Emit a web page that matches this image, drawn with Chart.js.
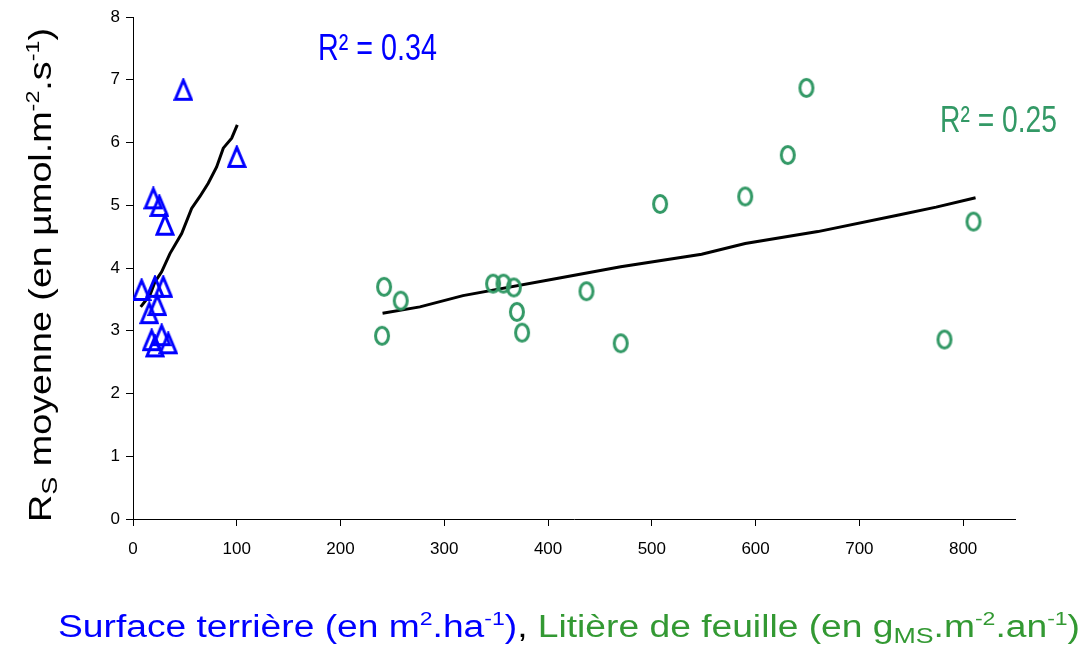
<!DOCTYPE html>
<html>
<head>
<meta charset="utf-8">
<script src="https://cdn.jsdelivr.net/npm/chart.js@4.4.1/dist/chart.umd.min.js"></script>
<style>
  body { margin: 0; background: #fff; }
  canvas { display: block; }
</style>
</head>
<body>
<canvas id="chart" width="1086" height="646"></canvas>
<script>
// basal area (m2/ha) vs mean soil respiration
const basalArea = [48.5, 100, 19.6, 25.4, 30.8, 8.3, 21.2, 29.2, 23.4, 15.7, 18, 27.6, 34, 21.2];
const rsBasal   = [6.84, 5.77, 5.11, 4.99, 4.69, 3.65, 3.70, 3.70, 3.41, 3.28, 2.85, 2.93, 2.80, 2.75];

// leaf litter (gMS/m2/an) vs mean soil respiration
const leafLitter = [242, 258, 240, 347, 357, 367, 370, 375, 437, 470, 508, 590, 631, 649, 810, 782];
const rsLitter   = [3.70, 3.48, 2.92, 3.75, 3.75, 3.69, 3.30, 2.97, 3.63, 2.80, 5.02, 5.14, 5.80, 6.87, 4.74, 2.86];

// fitted trend lines
const basalFitX = [7.4, 16.4, 21.2, 27.6, 35.6, 46.9, 56.5, 64.5, 72.5, 80.6, 87.0, 95.1, 100.5];
const basalFitY = [3.38, 3.57, 3.78, 3.94, 4.23, 4.55, 4.95, 5.14, 5.35, 5.61, 5.91, 6.07, 6.28];
const litterFitX = [240.5, 276.5, 318, 411, 470, 548, 590, 660, 739, 774, 812];
const litterFitY = [3.28, 3.38, 3.56, 3.84, 4.02, 4.22, 4.39, 4.58, 4.85, 4.97, 5.12];

const xTicks = [0, 850, 100];   // min, max, step
const yTicks = [0, 8, 1];

const r2Basal = 'R\u00b2 = 0.34';
const r2Litter = 'R\u00b2 = 0.25';

const BLUE = '#0000ff';
const GREEN = '#339966';
const TITLE_GREEN = '#339933';
const FONT = '"Liberation Sans", Arial, sans-serif';

const toPoints = (xs, ys) => xs.map((x, i) => ({ x: x, y: ys[i] }));

// marker images: a tall open triangle and a tall open ellipse, like the excel ones
function makeTriangle() {
    const c = document.createElement('canvas');
    c.width = 20; c.height = 24;
    const g = c.getContext('2d');
    g.strokeStyle = BLUE;
    g.lineWidth = 3;
    g.lineJoin = 'miter';
    g.beginPath();
    g.moveTo(10, 2.5);
    g.lineTo(18, 21.5);
    g.lineTo(2, 21.5);
    g.closePath();
    g.stroke();
    return c;
}

function makeEllipse() {
    const c = document.createElement('canvas');
    c.width = 18; c.height = 22;
    const g = c.getContext('2d');
    g.strokeStyle = GREEN;
    g.lineWidth = 3;
    g.beginPath();
    g.ellipse(9, 11, 6.5, 8.5, 0, 0, Math.PI * 2);
    g.stroke();
    return c;
}

// draws a run of text pieces (normal / sup / sub), squeezed to a given width
function drawRich(ctx, parts, size, x, y, width) {
    let total = 0;
    parts.forEach(p => {
        ctx.font = `${size * (p.s || 1)}px ${FONT}`;
        p.w = ctx.measureText(p.t).width;
        total += p.w;
    });
    const k = width / total;
    ctx.save();
    ctx.translate(x, y);
    ctx.scale(k, 1);
    let cx = 0;
    parts.forEach(p => {
        ctx.font = `${size * (p.s || 1)}px ${FONT}`;
        ctx.fillStyle = p.c;
        ctx.textBaseline = 'alphabetic';
        ctx.textAlign = 'left';
        ctx.fillText(p.t, cx, (p.dy || 0) * size);
        cx += p.w;
    });
    ctx.restore();
}

const labelsPlugin = {
    id: 'labels',
    afterDraw(chart) {
        const ctx = chart.ctx;

        // y title, rotated
        ctx.save();
        ctx.translate(51, 522);
        ctx.rotate(-Math.PI / 2);
        drawRich(ctx, [
            { t: 'R', c: '#000' },
            { t: 'S', c: '#000', s: 0.72, dy: 0.2 },
            { t: ' moyenne (en \u00b5mol.m', c: '#000' },
            { t: '-2', c: '#000', s: 0.62, dy: -0.4 },
            { t: '.s', c: '#000' },
            { t: '-1', c: '#000', s: 0.62, dy: -0.4 },
            { t: ')', c: '#000' }
        ], 31, 0, 0, 494);
        ctx.restore();

        // x title
        drawRich(ctx, [
            { t: 'Surface terri\u00e8re (en m', c: BLUE },
            { t: '2', c: BLUE, s: 0.62, dy: -0.4 },
            { t: '.ha', c: BLUE },
            { t: '-1', c: BLUE, s: 0.62, dy: -0.4 },
            { t: ')', c: BLUE },
            { t: ', ', c: '#000' },
            { t: 'Liti\u00e8re de feuille (en g', c: TITLE_GREEN },
            { t: 'MS', c: TITLE_GREEN, s: 0.72, dy: 0.2 },
            { t: '.m', c: TITLE_GREEN },
            { t: '-2', c: TITLE_GREEN, s: 0.62, dy: -0.4 },
            { t: '.an', c: TITLE_GREEN },
            { t: '-1', c: TITLE_GREEN, s: 0.62, dy: -0.4 },
            { t: ')', c: TITLE_GREEN }
        ], 31, 58, 637, 1022);

        // R2 labels
        drawRich(ctx, [{ t: r2Basal, c: BLUE }], 37, 318, 60, 119);
        drawRich(ctx, [{ t: r2Litter, c: GREEN }], 37, 940, 132, 117);
    }
};

const axisCommon = {
    type: 'linear',
    border: { color: '#000', width: 1 },
    grid: { display: true, drawOnChartArea: false, drawTicks: true, tickLength: 7, color: '#000' },
};

new Chart(document.getElementById('chart'), {
    type: 'scatter',
    data: {
        datasets: [
            {
                label: 'Surface terrière',
                data: toPoints(basalArea, rsBasal),
                pointStyle: makeTriangle(),
                borderColor: BLUE,
                backgroundColor: BLUE,
            },
            {
                label: 'Litière de feuille',
                data: toPoints(leafLitter, rsLitter),
                pointStyle: makeEllipse(),
                borderColor: GREEN,
                backgroundColor: GREEN,
            },
            {
                label: 'fit basal',
                data: toPoints(basalFitX, basalFitY),
                showLine: true,
                pointRadius: 0,
                borderColor: '#000',
                borderWidth: 3,
                tension: 0,
            },
            {
                label: 'fit litter',
                data: toPoints(litterFitX, litterFitY),
                showLine: true,
                pointRadius: 0,
                borderColor: '#000',
                borderWidth: 3,
                tension: 0,
            }
        ]
    },
    options: {
        responsive: false,
        animation: false,
        layout: { padding: { top: 17, right: 71, left: 0, bottom: 0 } },
        plugins: {
            legend: { display: false },
            tooltip: { enabled: false },
        },
        scales: {
            x: {
                ...axisCommon,
                min: xTicks[0],
                max: xTicks[1],
                ticks: {
                    stepSize: xTicks[2],
                    includeBounds: false,
                    color: '#000',
                    font: { family: FONT, size: 17 },
                    padding: 13,
                    maxRotation: 0,
                },
                afterFit(scale) { scale.height = 127; },
            },
            y: {
                ...axisCommon,
                min: yTicks[0],
                max: yTicks[1],
                ticks: {
                    stepSize: yTicks[2],
                    color: '#000',
                    font: { family: FONT, size: 17 },
                    padding: 6,
                },
                afterFit(scale) { scale.width = 133; },
            }
        }
    },
    plugins: [labelsPlugin]
});
</script>
</body>
</html>
